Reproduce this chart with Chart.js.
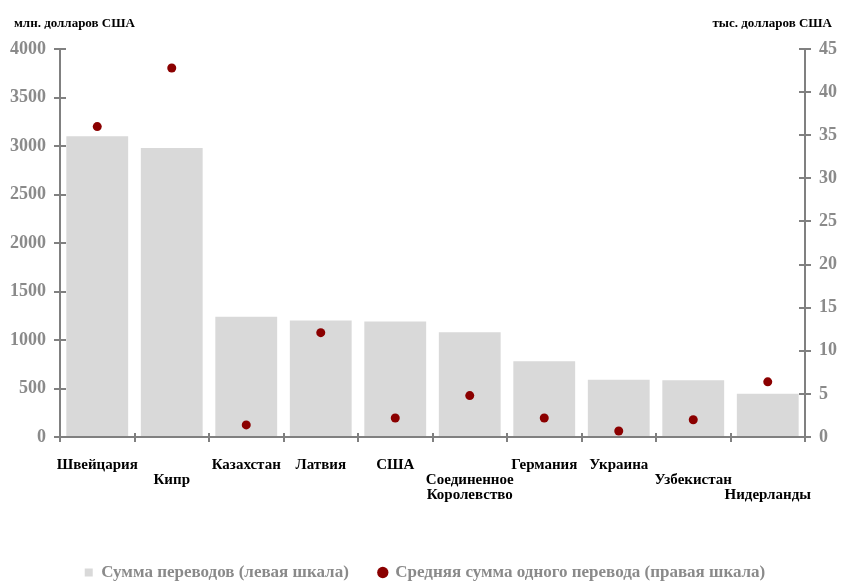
<!DOCTYPE html>
<html>
<head>
<meta charset="utf-8">
<script src="https://cdn.jsdelivr.net/npm/chart.js@4"></script>
<style>
  html, body { margin: 0; padding: 0; background: #fff; overflow: hidden; }
  #wrap { width: 850px; height: 581px; }
</style>
</head>
<body>
<div id="wrap"><canvas id="chart"></canvas></div>
<script>
// data
const countries = [
    ['Швейцария'], ['', 'Кипр'], ['Казахстан'], ['Латвия'], ['США'],
    ['', 'Соединенное', 'Королевство'], ['Германия'], ['Украина'], ['', 'Узбекистан'], ['', '', 'Нидерланды']
];
const transferSums = [3100, 2980, 1240, 1200, 1190, 1080, 780, 590, 585, 445];   // млн. долларов США
const avgTransfer = [36.0, 42.8, 1.4, 12.1, 2.2, 4.8, 2.2, 0.7, 2.0, 6.4];      // тыс. долларов США
const leftAxis = { max: 4000, step: 500, title: 'млн. долларов США' };
const rightAxis = { max: 45, step: 5, title: 'тыс. долларов США' };
const seriesNames = ['Сумма переводов (левая шкала)', 'Средняя сумма одного перевода (правая шкала)'];

const grey = '#8a8a8a';
const axisGrey = '#808080';
const serif = '"Liberation Serif", "Times New Roman", serif';

// axis titles on top + the inner half of the cross ticks
const extrasPlugin = {
    id: 'extras',
    afterDraw(chart) {
        const { ctx, chartArea: a, scales } = chart;
        ctx.save();
        ctx.strokeStyle = axisGrey; ctx.lineWidth = 2;
        const seg = (x1, y1, x2, y2) => { ctx.beginPath(); ctx.moveTo(x1, y1); ctx.lineTo(x2, y2); ctx.stroke(); };
        scales.y.ticks.forEach(t => { const py = Math.round(scales.y.getPixelForValue(t.value)); seg(a.left, py, a.left + 6, py); });
        scales.y1.ticks.forEach(t => { const py = Math.round(scales.y1.getPixelForValue(t.value)); seg(a.right - 6, py, a.right, py); });
        const n = countries.length;
        for (let i = 0; i <= n; i++) { const px = Math.round(a.left + i * a.width / n); seg(px, a.bottom - 4, px, a.bottom); }
        ctx.fillStyle = '#000'; ctx.font = 'bold 13px ' + serif; ctx.textBaseline = 'middle';
        ctx.textAlign = 'left'; ctx.fillText(leftAxis.title, 14, 24);
        ctx.textAlign = 'right'; ctx.fillText(rightAxis.title, 832, 24);
        ctx.restore();
    }
};

const plainTick = v => String(v);

new Chart(document.getElementById('chart'), {
    type: 'bar',
    data: {
        labels: countries,
        datasets: [
            { label: seriesNames[1], type: 'line', data: avgTransfer, yAxisID: 'y1', showLine: false,
              pointRadius: 4.5, pointHoverRadius: 4.5, pointBackgroundColor: '#8b0000', pointBorderWidth: 0,
              backgroundColor: '#8b0000', borderColor: '#8b0000', pointStyle: 'circle', order: 0 },
            { label: seriesNames[0], data: transferSums, yAxisID: 'y', backgroundColor: '#d9d9d9',
              barPercentage: 0.83, categoryPercentage: 1, pointStyle: 'rect', order: 1 }
        ]
    },
    options: {
        responsive: true, maintainAspectRatio: false, animation: false,
        layout: { padding: { top: 49, bottom: -10, left: 0, right: 0 } },
        plugins: {
            tooltip: { enabled: false },
            legend: {
                position: 'bottom', reverse: true,
                labels: { usePointStyle: true, boxWidth: 8, boxHeight: 8, padding: 30, color: grey,
                          font: { family: serif, size: 17, weight: 'bold' } }
            }
        },
        scales: {
            x: {
                grid: { drawOnChartArea: false, drawTicks: true, tickLength: 5, color: axisGrey, lineWidth: 2 },
                border: { color: axisGrey, width: 2 },
                ticks: { color: '#000', padding: 16, maxRotation: 0, autoSkip: false,
                         font: { family: serif, size: 15, weight: 'bold', lineHeight: '15px' } },
                afterFit: s => { s.height = 97; }
            },
            y: {
                position: 'left', min: 0, max: leftAxis.max,
                grid: { drawOnChartArea: false, tickLength: 6, color: axisGrey, lineWidth: 2 },
                border: { color: axisGrey, width: 2 },
                ticks: { stepSize: leftAxis.step, callback: plainTick, color: grey, padding: 8,
                         font: { family: serif, size: 18, weight: 'bold' } },
                afterFit: s => { s.width = 60; }
            },
            y1: {
                position: 'right', min: 0, max: rightAxis.max,
                grid: { drawOnChartArea: false, tickLength: 6, color: axisGrey, lineWidth: 2 },
                border: { color: axisGrey, width: 2 },
                ticks: { stepSize: rightAxis.step, callback: plainTick, color: grey, padding: 8,
                         font: { family: serif, size: 18, weight: 'bold' } },
                afterFit: s => { s.width = 45; }
            }
        }
    },
    plugins: [extrasPlugin]
});
</script>
</body>
</html>
